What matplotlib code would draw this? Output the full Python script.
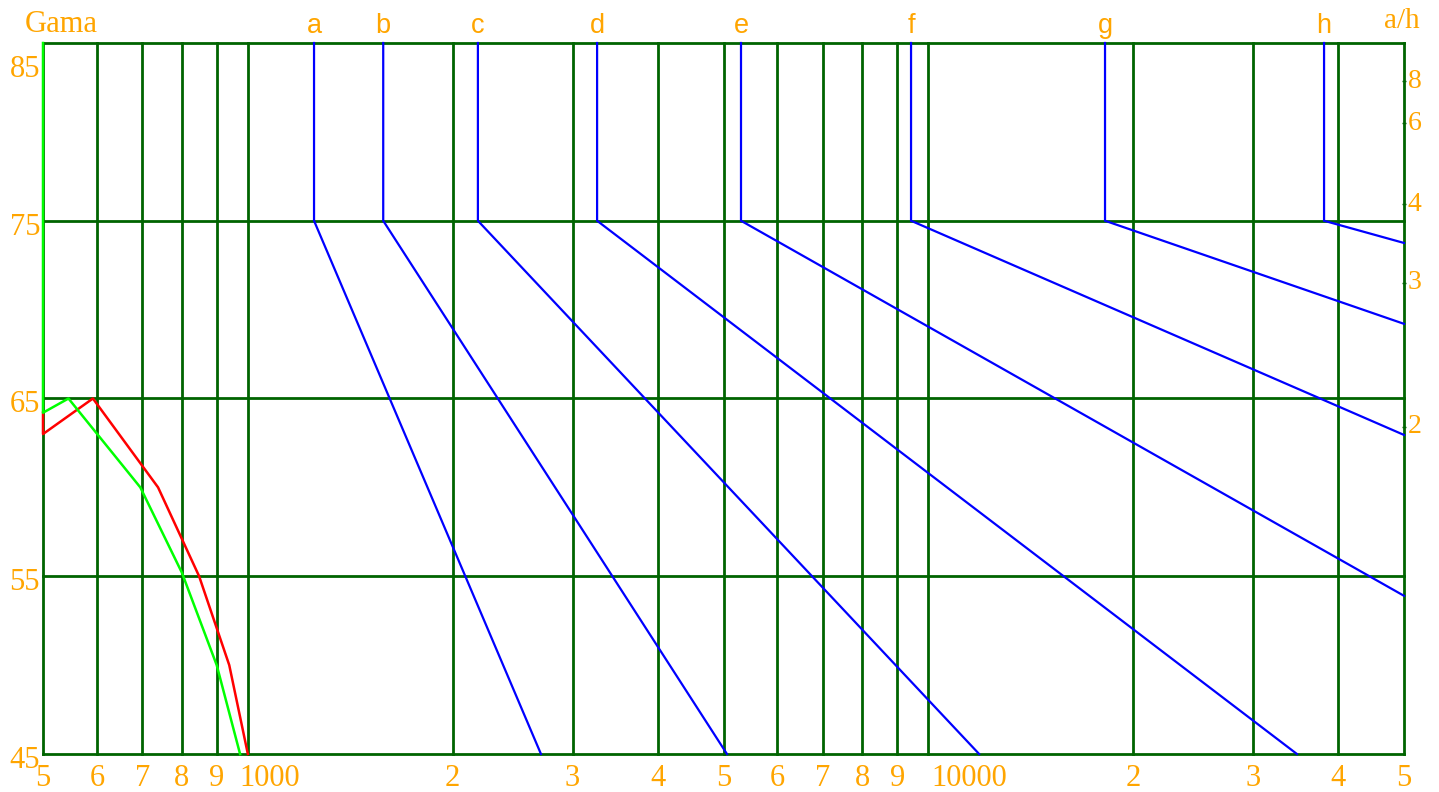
import numpy as np
import matplotlib.pyplot as plt
import matplotlib.transforms as mtransforms

# grid values
x_grid = [500, 600, 700, 800, 900, 1000, 2000, 3000, 4000, 5000, 6000, 7000, 8000, 9000,
          10000, 20000, 30000, 40000, 50000]
x_labels = ['5', '6', '7', '8', '9', '1000', '2', '3', '4', '5', '6', '7', '8', '9',
            '10000', '2', '3', '4', '5']
y_grid = [45, 55, 65, 75, 85]

# blue lines: start x at top, end point of the slanted part
blue_names = ['a', 'b', 'c', 'd', 'e', 'f', 'g', 'h']
blue_x0 = [1251, 1581, 2178, 3260, 5305, 9431, 18181, 38150]
blue_x1 = [2696, 5059, 11875, 34806, 50000, 50000, 50000, 50000]
blue_y1 = [45, 45, 45, 45, 53.9, 62.95, 69.2, 73.75]
y_top = 85
y_knee = 75

# red and green curves
red_x = [500, 500, 592, 738, 848, 939, 1000]
red_y = [64.2, 63.0, 65.0, 60.0, 55.0, 50.0, 45.0]
green_x = [500, 500, 545, 695, 800, 900, 974]
green_y = [85.0, 64.2, 65.0, 60.0, 55.2, 50.0, 45.0]

# right axis a/h
ah_labels = ['8', '6', '4', '3', '2']
ah_y = [82.85, 80.48, 75.93, 71.51, 63.41]

orange = '#FFA500'
dgreen = '#006400'
serif = 'Liberation Serif'
sans = 'Liberation Sans'

fig = plt.figure(figsize=(14.39, 7.92), dpi=100)
ax = fig.add_axes([43 / 1439, 38 / 792, 1361 / 1439, 711 / 792])
ax.set_xscale('log')
ax.set_xlim(500, 50000)
ax.set_ylim(45, 85)
ax.axis('off')

for xv in x_grid:
    ax.axvline(xv, color=dgreen, lw=2, clip_on=False, zorder=1)
for yv in y_grid:
    ax.axhline(yv, color=dgreen, lw=2, clip_on=False, zorder=1)

for n, x0, x1, y1 in zip(blue_names, blue_x0, blue_x1, blue_y1):
    ax.plot([x0, x0, x1], [y_top, y_knee, y1], color='#0000FF', lw=1.6, zorder=3,
            clip_on=False, solid_joinstyle='miter')
    ax.text(x0, y_top, n, ha='center', va='baseline', color=orange, fontsize=19.5,
            family=sans,
            transform=ax.transData + mtransforms.ScaledTranslation(0, 10 / 100, fig.dpi_scale_trans))

ax.plot(red_x, red_y, color='#FF0000', lw=1.8, zorder=3, clip_on=False)
ax.plot(green_x, green_y, color='#00FF00', lw=1.8, zorder=4, clip_on=False)

# bottom labels
bt = mtransforms.blended_transform_factory(ax.transData, ax.transAxes)
for xv, lab in zip(x_grid, x_labels):
    if lab == '1000':
        off, ha = -8, 'left'
    elif lab == '10000':
        off, ha = 3, 'left'
    else:
        off, ha = 0, 'center'
    ax.text(xv, 0, lab, ha=ha, va='baseline', color=orange, fontsize=22, family=serif,
            transform=bt + mtransforms.ScaledTranslation(off / 100, -32 / 100, fig.dpi_scale_trans))

# left labels
lt = mtransforms.blended_transform_factory(ax.transAxes, ax.transData)
for yv in y_grid:
    dy = -34 if yv == 85 else -14
    ax.text(0, yv, str(yv), ha='right', va='baseline', color=orange, fontsize=22, family=serif,
            transform=lt + mtransforms.ScaledTranslation(-3 / 100, dy / 100, fig.dpi_scale_trans))

# right labels a/h
for yv, lab in zip(ah_y, ah_labels):
    ax.plot([1], [yv], marker='_', markersize=3, color=dgreen, transform=lt, clip_on=False, zorder=5)
    ax.text(1, yv, lab, ha='left', va='center', color=orange, fontsize=20, family=serif,
            transform=lt + mtransforms.ScaledTranslation(4 / 100, 0, fig.dpi_scale_trans))

fig.text(25 / 1439, 1 - 32 / 792, 'Gama', ha='left', va='baseline', color=orange,
         fontsize=22, family=serif)
fig.text(1384 / 1439, 1 - 28 / 792, 'a/h', ha='left', va='baseline', color=orange,
         fontsize=21, family=serif)

fig.savefig('out.png', dpi=100, facecolor='white')
